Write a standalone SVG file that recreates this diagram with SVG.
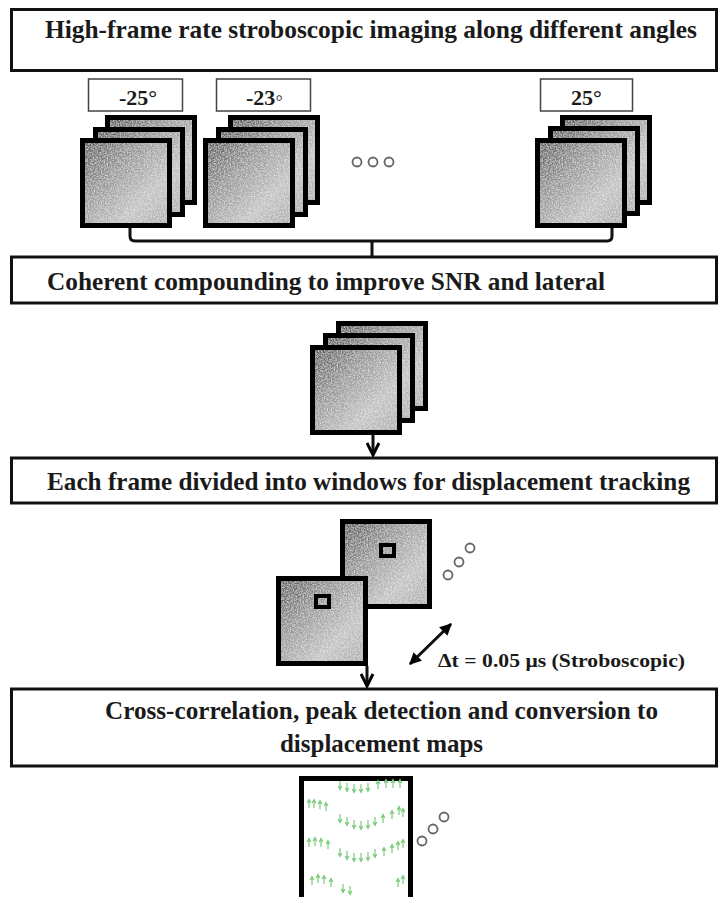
<svg xmlns="http://www.w3.org/2000/svg" xmlns:xlink="http://www.w3.org/1999/xlink" width="720" height="897" viewBox="0 0 720 897">
<style>
.box{fill:#fff;stroke:#111;stroke-width:3}
.lbl{fill:#fff;stroke:#444;stroke-width:1.5}
.t{font-family:"Liberation Serif","Times New Roman",serif;font-weight:bold;fill:#1a1a1a}
.big{font-size:25px}
.sm{font-size:22px}
.conn{fill:none;stroke:#111;stroke-width:3}
.dot{fill:#fff;stroke:#666;stroke-width:1.8}
.img{fill:url(#gr)}
.bd{fill:none;stroke:#000;stroke-width:5}
.ga{fill:none;stroke:#7acb7a;stroke-width:1.2}
</style>
<defs>
<linearGradient id="gr" x1="0" y1="0" x2="1" y2="1">
<stop offset="0" stop-color="#555"/>
<stop offset="0.35" stop-color="#949494"/>
<stop offset="0.7" stop-color="#c2c2c2"/>
<stop offset="1" stop-color="#aaa"/>
</linearGradient>
<filter id="grain" x="0" y="0" width="100%" height="100%">
<feTurbulence type="fractalNoise" baseFrequency="0.7" numOctaves="2" seed="4" result="n"/>
<feColorMatrix in="n" type="matrix" values="0 0 0 0 1 0 0 0 0 1 0 0 0 0 1 1.2 0 0 0 -0.45" result="w"/>
<feComposite in="w" in2="SourceGraphic" operator="atop"/>
</filter>
<g id="frame">
<rect class="img" x="2.5" y="2.5" width="87" height="85" filter="url(#grain)"/>
<rect class="bd" x="2.5" y="2.5" width="87" height="85"/>
</g>
<marker id="v" viewBox="0 0 10 10" refX="9" refY="5" markerWidth="5" markerHeight="5" orient="auto">
<path d="M1,1 L9,5 L1,9" fill="none" stroke="#000" stroke-width="2"/>
</marker>
<marker id="f" viewBox="0 0 10 10" refX="9" refY="5" markerWidth="4" markerHeight="4" orient="auto-start-reverse">
<path d="M0,0 L10,5 L0,10 Z" fill="#000"/>
</marker>
<path id="ad" class="ga" d="M0,-5 V2 M-1.8,0 L0,3.5 L1.8,0"/>
<path id="au" class="ga" d="M0,5 V-2 M-1.8,0 L0,-3.5 L1.8,0"/>
</defs>

<g id="connectors">
<path class="conn" d="M130,228 V236 Q130,241 135,241 H607 Q612,241 612,236 V227"/>
<path class="conn" d="M372,241 V256"/>
<path class="conn" d="M373,435 V455" marker-end="url(#v)"/>
<path class="conn" d="M367,666 V686" marker-end="url(#v)"/>
<path class="conn" d="M410,664 L451,624" stroke-width="2.5" marker-start="url(#f)" marker-end="url(#f)"/>
</g>

<g id="step1">
<rect class="box" x="11.5" y="9.5" width="705" height="61"/>
<text class="t big" x="45" y="38" textLength="652" lengthAdjust="spacingAndGlyphs">High-frame rate stroboscopic imaging along different angles</text>
</g>

<g id="angle-m25">
<rect class="lbl" x="88.5" y="79" width="94" height="32"/>
<text class="t sm" x="119" y="105">-25°</text>
<use href="#frame" transform="translate(105,115)"/>
<use href="#frame" transform="translate(93,127)"/>
<use href="#frame" transform="translate(80,138)"/>
</g>

<g id="angle-m23">
<rect class="lbl" x="216.5" y="79" width="94" height="32"/>
<text class="t sm" x="246" y="105">-23◦</text>
<use href="#frame" transform="translate(228,115)"/>
<use href="#frame" transform="translate(216,127)"/>
<use href="#frame" transform="translate(203,138)"/>
</g>

<g id="ellipsis1">
<circle class="dot" cx="357" cy="162" r="4.5"/>
<circle class="dot" cx="373" cy="162" r="4.5"/>
<circle class="dot" cx="389" cy="162" r="4.5"/>
</g>

<g id="angle-p25">
<rect class="lbl" x="540.5" y="79" width="92" height="32"/>
<text class="t sm" x="571" y="105">25°</text>
<use href="#frame" transform="translate(560,115)"/>
<use href="#frame" transform="translate(548,126)"/>
<use href="#frame" transform="translate(535,138)"/>
</g>

<g id="step2">
<rect class="box" x="11.5" y="257" width="705" height="46"/>
<text class="t big" x="47" y="290" textLength="558" lengthAdjust="spacingAndGlyphs">Coherent compounding to improve SNR and lateral</text>
</g>

<g id="compound-stack">
<use href="#frame" transform="translate(336,321)"/>
<use href="#frame" transform="translate(323,333)"/>
<use href="#frame" transform="translate(310,345)"/>
</g>

<g id="step3">
<rect class="box" x="11.5" y="458" width="705" height="45"/>
<text class="t big" x="47" y="490" textLength="643" lengthAdjust="spacingAndGlyphs">Each frame divided into windows for displacement tracking</text>
</g>

<g id="frame-pair">
<use href="#frame" transform="translate(340,519)"/>
<rect fill="none" stroke="#000" stroke-width="4" x="381" y="545" width="13" height="11"/>
<use href="#frame" transform="translate(276,576)"/>
<rect fill="none" stroke="#000" stroke-width="4" x="316" y="596" width="13" height="11"/>
<circle class="dot" cx="448" cy="575" r="4.5"/>
<circle class="dot" cx="459" cy="562" r="4.5"/>
<circle class="dot" cx="470" cy="548" r="4.5"/>
<text class="t" font-size="19" x="438" y="667" textLength="247" lengthAdjust="spacingAndGlyphs">Δt = 0.05 μs (Stroboscopic)</text>
</g>

<g id="step4">
<rect class="box" x="11.5" y="689" width="705" height="77"/>
<text class="t big" x="105" y="719" textLength="553" lengthAdjust="spacingAndGlyphs">Cross-correlation, peak detection and conversion to</text>
<text class="t big" x="280" y="752" textLength="203" lengthAdjust="spacingAndGlyphs">displacement maps</text>
</g>

<g id="displacement-map">
<rect fill="#fff" stroke="#000" stroke-width="5" x="301.5" y="778.5" width="109" height="125"/>
<g>
<use href="#ad" x="340" y="786"/><use href="#ad" x="347" y="788"/><use href="#ad" x="354" y="789"/><use href="#ad" x="361" y="789"/><use href="#ad" x="368" y="788"/><use href="#au" x="378" y="784"/><use href="#au" x="386" y="783"/><use href="#au" x="393" y="783"/><use href="#au" x="400" y="783"/>
<use href="#au" x="309" y="803"/><use href="#au" x="314" y="803"/><use href="#au" x="320" y="804"/><use href="#au" x="326" y="806"/>
<use href="#ad" x="340" y="819"/><use href="#ad" x="347" y="822"/><use href="#ad" x="354" y="825"/><use href="#ad" x="361" y="826"/><use href="#ad" x="368" y="825"/><use href="#ad" x="375" y="822"/><use href="#au" x="383" y="818"/><use href="#au" x="392" y="814"/><use href="#au" x="399" y="810"/><use href="#au" x="403" y="812"/>
<use href="#au" x="309" y="842"/><use href="#au" x="315" y="841"/><use href="#au" x="321" y="842"/><use href="#au" x="328" y="844"/>
<use href="#ad" x="340" y="853"/><use href="#ad" x="347" y="856"/><use href="#ad" x="354" y="858"/><use href="#ad" x="361" y="858"/><use href="#ad" x="368" y="857"/><use href="#ad" x="375" y="854"/><use href="#au" x="384" y="851"/><use href="#au" x="392" y="848"/><use href="#au" x="398" y="845"/><use href="#au" x="403" y="843"/>
<use href="#au" x="312" y="880"/><use href="#au" x="318" y="878"/><use href="#au" x="324" y="879"/><use href="#au" x="331" y="882"/>
<use href="#ad" x="343" y="889"/><use href="#ad" x="350" y="891"/><use href="#au" x="398" y="882"/><use href="#au" x="403" y="879"/>
</g>
<circle class="dot" cx="422" cy="841" r="4.5"/>
<circle class="dot" cx="433" cy="829" r="4.5"/>
<circle class="dot" cx="444" cy="817" r="4.5"/>
</g>
</svg>
